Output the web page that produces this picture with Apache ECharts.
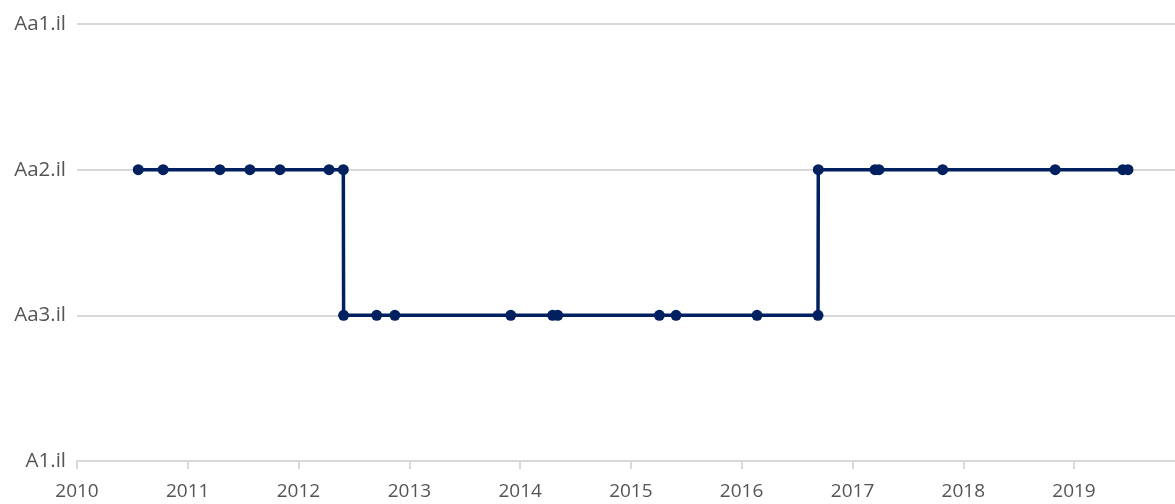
<!DOCTYPE html>
<html>
<head>
<meta charset="utf-8">
<script src="https://cdn.jsdelivr.net/npm/echarts@6/dist/echarts.min.js"></script>
<style>html,body{margin:0;padding:0;background:#fff}#c{width:1175px;height:504px}</style>
</head>
<body>
<div id="c"></div>
<script>
var ratingLabels = ['A1.il', 'Aa3.il', 'Aa2.il', 'Aa1.il'];
var dates = ['2010-07-22','2010-10-12','2011-04-17','2011-07-25','2011-11-01','2012-04-11','2012-05-28',
  '2012-05-29','2012-09-15','2012-11-14','2013-12-01','2014-04-18','2014-05-05','2015-04-05','2015-05-30','2016-02-21','2016-09-09',
  '2016-09-10','2017-03-16','2017-03-29','2017-10-25','2018-10-31','2019-06-11','2019-06-28'];
var ratings = ['Aa2.il','Aa2.il','Aa2.il','Aa2.il','Aa2.il','Aa2.il','Aa2.il',
  'Aa3.il','Aa3.il','Aa3.il','Aa3.il','Aa3.il','Aa3.il','Aa3.il','Aa3.il','Aa3.il','Aa3.il',
  'Aa2.il','Aa2.il','Aa2.il','Aa2.il','Aa2.il','Aa2.il','Aa2.il'];
var xMin = '2010-01-01', xMax = '2019-11-30';

var fontFam = '"Open Sans", sans-serif';
var data = dates.map(function(d, i){ return [d, ratingLabels.indexOf(ratings[i])]; });
var chart = echarts.init(document.getElementById('c'), null, {renderer:'canvas'});
chart.setOption({
  animation: false,
  grid: {left: 77, right: 0, top: 24, bottom: 43, containLabel: false},
  xAxis: {
    type: 'time', min: xMin, max: xMax,
    minInterval: 365*86400000, maxInterval: 366*86400000,
    axisLine: {show: true, lineStyle: {color: '#d9d9d9', width: 2}},
    axisTick: {show: true, length: 8, lineStyle: {color: '#d9d9d9', width: 2}},
    splitLine: {show: false},
    axisLabel: {color: '#555555', fontSize: 19, fontFamily: fontFam, margin: 21,
      formatter: function(v){ return new Date(v).getFullYear() + ''; }}
  },
  yAxis: {
    type: 'value', min: 0, max: 3, interval: 1,
    axisLine: {show: false}, axisTick: {show: false},
    splitLine: {lineStyle: {color: '#d9d9d9', width: 2}},
    axisLabel: {color: '#555555', fontSize: 20.5, fontFamily: fontFam, margin: 11,
      formatter: function(v){ return ratingLabels[v] || ''; }}
  },
  series: [{
    type: 'line', step: 'end', data: data,
    symbol: 'circle', symbolSize: 11, showAllSymbol: true,
    lineStyle: {color: '#002060', width: 3.5},
    itemStyle: {color: '#002060'}
  }]
});
</script>
</body>
</html>
